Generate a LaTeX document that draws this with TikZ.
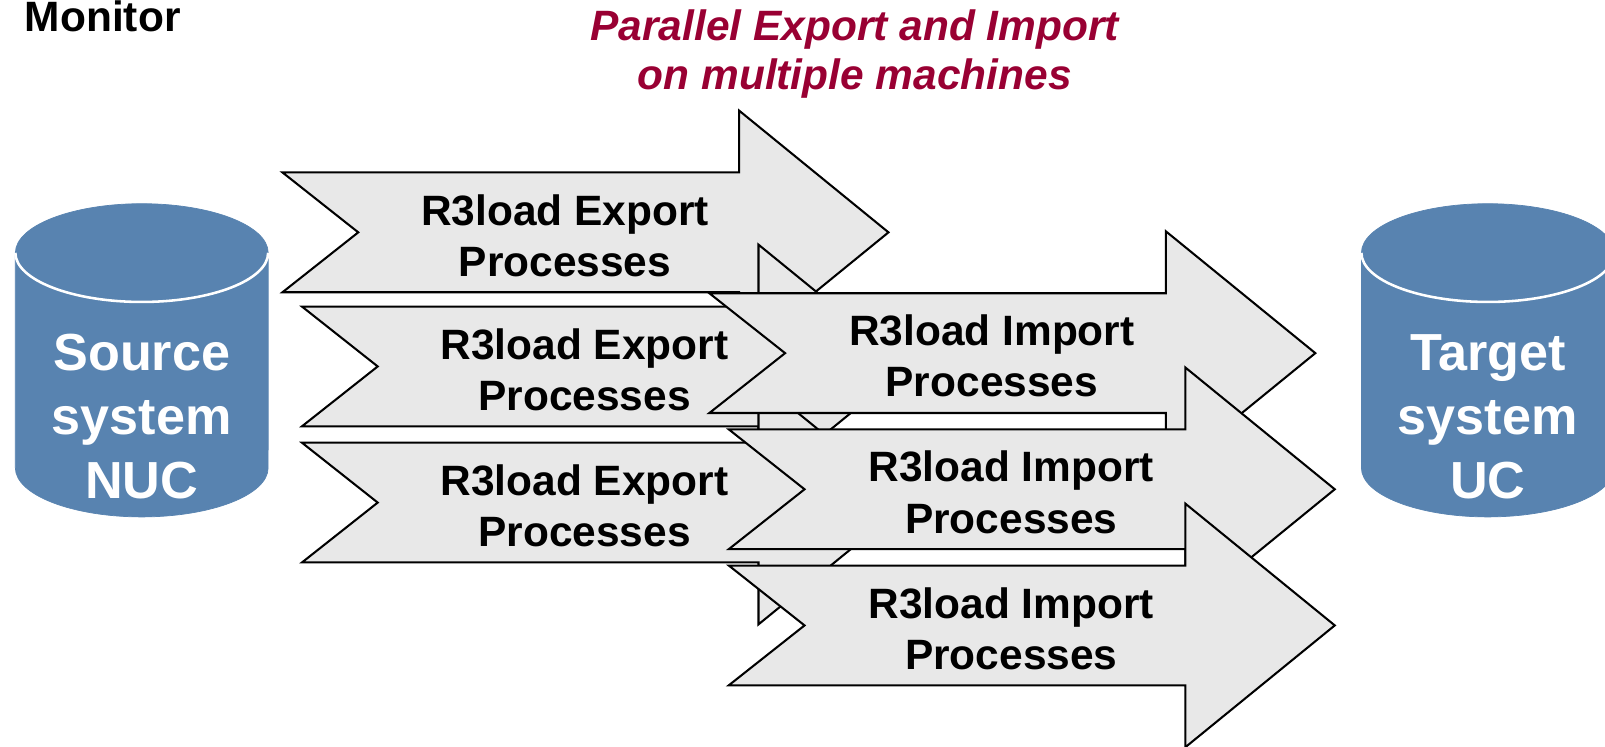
\documentclass[tikz,border=0pt]{standalone}
\usepackage{fontspec}
\setmainfont{Liberation Sans}

\definecolor{dbblue}{RGB}{88,131,176}
\definecolor{arrowgray}{RGB}{232,232,232}
\definecolor{titlered}{RGB}{153,0,51}

\tikzset{
    procarrow/.pic={
        \filldraw[fill=arrowgray, draw=black, line width=0.04cm, line join=miter]
            (0,-58.5) -- (446,-58.5) -- (446,-119) -- (592,0) -- (446,119)
            -- (446,58.5) -- (0,58.5) -- (74,0) -- cycle;
    },
    proclabel/.style={font=\bfseries\fontsize{23.6}{28.45}\selectfont, align=center, inner sep=0pt},
    dblabel/.style={text=white, font=\bfseries\fontsize{29}{35.6}\selectfont, align=center, inner sep=0pt},
    titlelabel/.style={text=titlered, font=\bfseries\itshape\fontsize{23.6}{27.3}\selectfont, align=center, inner sep=0pt}
}

\begin{document}
\begin{tikzpicture}[x=0.02cm, y=-0.02cm]
    \useasboundingbox (0,0) rectangle (1568,729);

    \node[anchor=base west, inner sep=0pt, font=\bfseries\fontsize{23.6}{28.45}\selectfont] (monitor) at (24,31) {Monitor};
    \node[titlelabel] (title) at (835,53) {Parallel Export and Import\\on multiple machines};

    % source and target databases
    \filldraw[dbblue] (15,247) -- (15,457) arc (180:360:2.47cm and 0.96cm) -- (262,247) arc (0:180:2.47cm and 0.96cm) -- cycle;
    \draw[white, line width=0.05cm] (15,247) arc (180:360:2.47cm and 0.96cm);
    \node[dblabel] (source) at (138.5,407) {Source\\system\\NUC};

    \filldraw[dbblue] (1330,247) -- (1330,457) arc (180:360:2.47cm and 0.96cm) -- (1577,247) arc (0:180:2.47cm and 0.96cm) -- cycle;
    \draw[white, line width=0.05cm] (1330,247) arc (180:360:2.47cm and 0.96cm);
    \node[dblabel] (target) at (1453.5,407) {Target\\system\\UC};

    % export and import processes
    \foreach \n/\x/\y/\kind in {exp1/276/227/Export, exp2/295/358/Export, exp3/295/491/Export,
                                imp1/693/345/Import, imp2/712/478/Import, imp3/712/611/Import}{
        \pic at (\x,\y) {procarrow};
        \node[proclabel] (\n) at (\x+276,\y+3) {R3load \kind\\Processes};
    }
\end{tikzpicture}
\end{document}
